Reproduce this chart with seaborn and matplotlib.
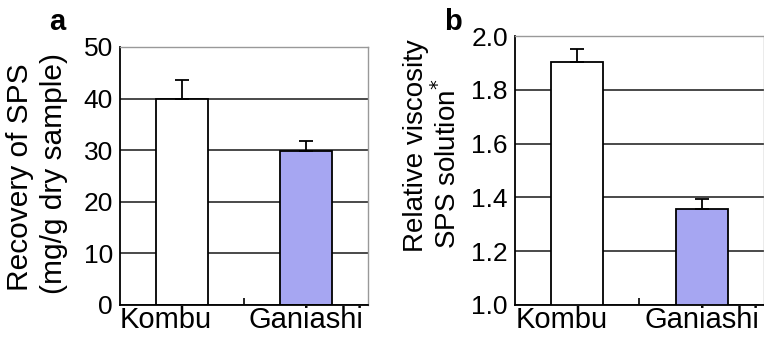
import matplotlib

matplotlib.use("Agg")
import matplotlib.pyplot as plt
import matplotlib.transforms as mtransforms
import pandas as pd
import seaborn as sns

# Values
categories = ["Kombu", "Ganiashi"]
recovery = [40.0, 29.8]
recovery_err = [3.6, 1.9]
viscosity = [1.905, 1.355]
viscosity_err = [0.045, 0.04]
bar_colors = ["#ffffff", "#9999ff"]

sns.set_theme(style="white")
plt.rcParams["font.family"] = ["Liberation Sans", "DejaVu Sans"]
plt.rcParams["text.color"] = "black"
plt.rcParams["xtick.color"] = "black"
plt.rcParams["ytick.color"] = "black"

W, H = 764, 343
fig = plt.figure(figsize=(W / 100, H / 100), dpi=100)
ax_a = fig.add_axes([0.157, 0.111, 0.325, 0.752])
ax_b = fig.add_axes([0.674, 0.111, 0.326, 0.784])


def draw_panel(ax, values, errors, ylim, yticks, letter, letter_y):
    df = pd.DataFrame({"cat": categories, "val": values})
    sns.barplot(data=df, x="cat", y="val", hue="cat", palette=bar_colors,
                width=0.42, edgecolor="black", linewidth=1.3, legend=False, ax=ax)
    ax.errorbar(range(len(values)), values, yerr=[[0] * len(errors), errors],
                fmt="none", ecolor="black", elinewidth=1.3, capsize=5, capthick=1.3)
    ax.set_xlim(-0.5, 1.5)
    ax.set_ylim(*ylim)
    ax.set_yticks(yticks)
    ax.set_yticklabels([f"{t:g}" if isinstance(t, int) else f"{t:.1f}" for t in yticks],
                       fontsize=19)
    ax.yaxis.grid(True, color="#2a2a2a", linewidth=1.2)
    ax.set_axisbelow(True)
    ax.tick_params(axis="x", length=0, labelsize=21, pad=1)
    ax.tick_params(axis="y", length=0, pad=5)
    ax.set_xticks([0.5], minor=True)
    ax.tick_params(axis="x", which="minor", bottom=True, direction="in", length=5,
                   width=1.2, color="black")
    # the first category label sits a bit left of its bar in the original
    first = ax.get_xticklabels()[0]
    first.set_transform(first.get_transform()
                        + mtransforms.ScaledTranslation(-0.16, 0, fig.dpi_scale_trans))
    ax.set_xlabel("")
    ax.set_ylabel("")
    for side in ["left", "bottom"]:
        ax.spines[side].set_color("black")
        ax.spines[side].set_linewidth(1.3)
    for side in ["top", "right"]:
        ax.spines[side].set_color("#999999")
        ax.spines[side].set_linewidth(1.0)
    ax.text(-0.285, letter_y, letter, transform=ax.transAxes, fontsize=21,
            fontweight="bold", va="baseline")


def ylabel_line(text, x_base, y_center, size):
    # rotated label line; x_base is the baseline position in pixels
    fig.text(x_base / W, 1 - y_center / H, text, rotation=90, rotation_mode="anchor",
             ha="center", va="baseline", fontsize=size)


draw_panel(ax_a, recovery, recovery_err, (0, 50), [0, 10, 20, 30, 40, 50], "a", 1.065)
draw_panel(ax_b, viscosity, viscosity_err, (1.0, 2.0), [1.0, 1.2, 1.4, 1.6, 1.8, 2.0],
           "b", 1.022)

ylabel_line("Recovery of SPS", 28, 177, 21.5)
ylabel_line("(mg/g dry sample)", 62, 173, 21.5)
ylabel_line("Relative viscosity", 423, 146, 20)
ylabel_line("SPS solution$^{*}$", 456, 164, 20)

fig.savefig("out.png", dpi=100)
